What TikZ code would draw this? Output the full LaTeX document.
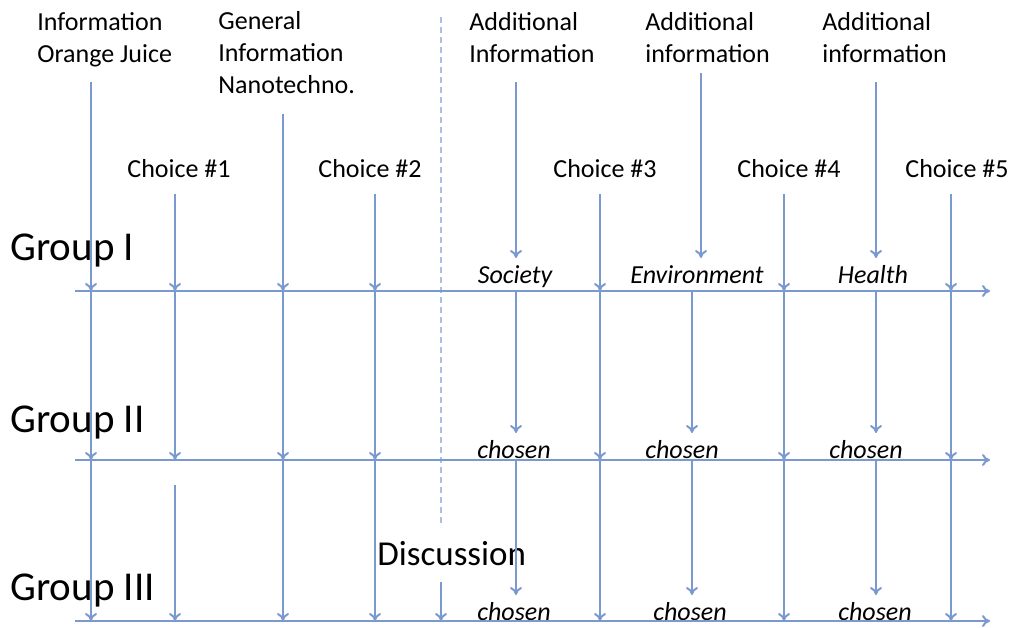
\documentclass[tikz,border=0pt]{standalone}
\usepackage{fontspec}
\setmainfont{Carlito}
\usetikzlibrary{arrows.meta}
\definecolor{lineblue}{RGB}{122,153,207}
\definecolor{dashblue}{RGB}{170,192,226}

\begin{document}
\begin{tikzpicture}[x=0.5pt,y=-0.5pt,>={To[length=4pt,width=6pt]}]
        \tikzstyle{line}=[every edge/.style={draw=lineblue,line width=1pt,->}]
        \tikzstyle{label}=[inner sep=0pt,anchor=base west,align=left,font=\fontsize{13}{16}\selectfont]
        \tikzstyle{topic}=[inner sep=0pt,anchor=base,font=\fontsize{13}{16}\selectfont\itshape]
        \tikzstyle{group}=[inner sep=0pt,anchor=base west,font=\fontsize{20.5}{24}\selectfont]

        \useasboundingbox (0,0) rectangle (1011,627);

        % texts on top (base = last line)
        \node[label]  (T01) at (37,62)   {Information\\Orange Juice};
        \node[label]  (T02) at (218,93)  {General\\Information\\Nanotechno.};
        \node[label]  (T03) at (469,62)  {Additional\\Information};
        \node[label]  (T04) at (645,62)  {Additional\\information};
        \node[label]  (T05) at (822,62)  {Additional\\information};
        \node[label]  (C01) at (127,177) {Choice \#1};
        \node[label]  (C02) at (318,177) {Choice \#2};
        \node[label]  (C03) at (553,177) {Choice \#3};
        \node[label]  (C04) at (737,177) {Choice \#4};
        \node[label]  (C05) at (905,177) {Choice \#5};
        \node[topic]  (S01) at (515,283) {Society};
        \node[topic]  (S02) at (697,283) {Environment};
        \node[topic]  (S03) at (873,283) {Health};
        \node[topic]  (K01) at (514,458) {chosen};
        \node[topic]  (K02) at (682,458) {chosen};
        \node[topic]  (K03) at (866,458) {chosen};
        \node[topic]  (K04) at (514,620) {chosen};
        \node[topic]  (K05) at (690,620) {chosen};
        \node[topic]  (K06) at (875,620) {chosen};
        \node[group]  (G01) at (10,260)  {Group I};
        \node[group]  (G02) at (10,432)  {Group II};
        \node[group]  (G03) at (10,600)  {Group III};
        \node[label,font=\fontsize{17.5}{20}\selectfont] (D01) at (377,565) {Discussion};

        % time lines
        \coordinate (A1) at (75,291);  \coordinate (B1) at (990,291);
        \coordinate (A2) at (75,460);  \coordinate (B2) at (990,460);
        \coordinate (A3) at (75,621);  \coordinate (B3) at (990,621);

        % tops of the vertical lines
        \coordinate (P01) at (91,82);   % orange juice
        \coordinate (P02) at (175,194); % choice 1
        \coordinate (P03) at (283,114); % nanotechno.
        \coordinate (P04) at (375,194); % choice 2
        \coordinate (P05) at (516,82);  % society
        \coordinate (P06) at (600,194); % choice 3
        \coordinate (P07) at (701,73);  % environment
        \coordinate (P08) at (784,194); % choice 4
        \coordinate (P09) at (876,82);  % health
        \coordinate (P10) at (951,194); % choice 5
        \coordinate (P11) at (175,485);
        \coordinate (P12) at (441,582);
        \coordinate (E01) at (516,258);
        \coordinate (E02) at (701,258);
        \coordinate (E03) at (876,258);
        \coordinate (Q01) at (516,291); \coordinate (R01) at (516,433); \coordinate (R04) at (516,595);
        \coordinate (Q02) at (692,291); \coordinate (R02) at (692,433); \coordinate (R05) at (692,595);
        \coordinate (Q03) at (876,291); \coordinate (R03) at (876,433); \coordinate (R06) at (876,595);
        \coordinate (D1) at (441,17);   \coordinate (D2) at (441,527);

        \draw[draw=dashblue,line width=0.7pt,dash pattern=on 3pt off 2pt] (D1) -- (D2);

        \path[line]
                  (A1) edge (B1)
                  (A2) edge (B2)
                  (A3) edge (B3)
                  (P01) edge (P01 |- A1)
                  (P01 |- A1) edge (P01 |- A2)
                  (P01 |- A2) edge (P01 |- A3)
                  (P02) edge (P02 |- A1)
                  (P02 |- A1) edge (P02 |- A2)
                  (P11) edge (P11 |- A3)
                  (P03) edge (P03 |- A1)
                  (P03 |- A1) edge (P03 |- A2)
                  (P03 |- A2) edge (P03 |- A3)
                  (P04) edge (P04 |- A1)
                  (P04 |- A1) edge (P04 |- A2)
                  (P04 |- A2) edge (P04 |- A3)
                  (P12) edge (P12 |- A3)
                  (P05) edge (E01)
                  (P07) edge (E02)
                  (P09) edge (E03)
                  (Q01) edge (R01)
                  (Q02) edge (R02)
                  (Q03) edge (R03)
                  (Q01 |- A2) edge (R04)
                  (Q02 |- A2) edge (R05)
                  (Q03 |- A2) edge (R06)
                  (P06) edge (P06 |- A1)
                  (P06 |- A1) edge (P06 |- A2)
                  (P06 |- A2) edge (P06 |- A3)
                  (P08) edge (P08 |- A1)
                  (P08 |- A1) edge (P08 |- A2)
                  (P08 |- A2) edge (P08 |- A3)
                  (P10) edge (P10 |- A1)
                  (P10 |- A1) edge (P10 |- A2)
                  (P10 |- A2) edge (P10 |- A3);
\end{tikzpicture}
\end{document}
